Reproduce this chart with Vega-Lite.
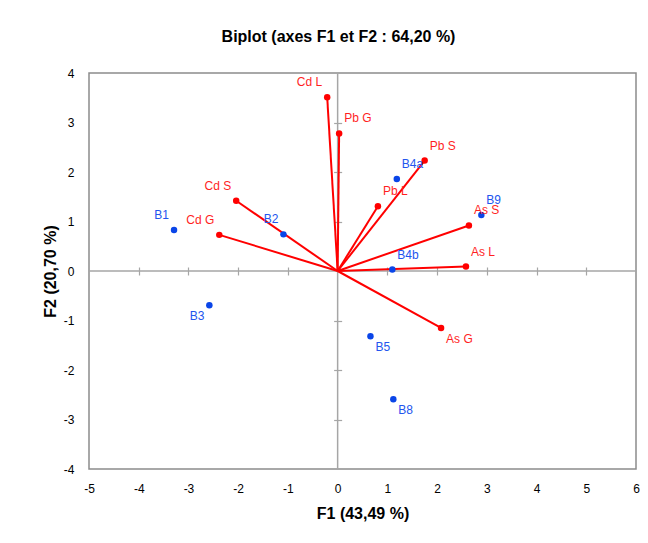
{
  "$schema": "https://vega.github.io/schema/vega-lite/v6.json",
  "width": 547,
  "height": 396,
  "autosize": "none",
  "padding": {"left": 89, "top": 73, "right": 12, "bottom": 74},
  "background": "white",
  "title": {
    "text": "Biplot (axes F1 et F2 : 64,20 %)",
    "font": "Liberation Sans",
    "fontSize": 16,
    "fontWeight": "bold",
    "color": "black",
    "anchor": "middle",
    "offset": 22,
    "dx": -24
  },
  "config": {
    "view": {"stroke": "#8c8c8c", "strokeWidth": 1.5},
    "axis": {"grid": false, "labelFont": "Liberation Sans", "titleFont": "Liberation Sans", "labelColor": "black", "titleColor": "black"}
  },
  "datasets": {
    "observations": [
      {"name": "B1", "F1": -3.29, "F2": 0.83},
      {"name": "B2", "F1": -1.09, "F2": 0.74},
      {"name": "B3", "F1": -2.58, "F2": -0.69},
      {"name": "B4a", "F1": 1.19, "F2": 1.86},
      {"name": "B4b", "F1": 1.10, "F2": 0.03},
      {"name": "B5", "F1": 0.66, "F2": -1.32},
      {"name": "B8", "F1": 1.12, "F2": -2.59},
      {"name": "B9", "F1": 2.89, "F2": 1.13}
    ],
    "variables": [
      {"name": "Cd L", "F1": -0.21, "F2": 3.51},
      {"name": "Pb G", "F1": 0.03, "F2": 2.78},
      {"name": "Pb S", "F1": 1.75, "F2": 2.23},
      {"name": "Pb L", "F1": 0.81, "F2": 1.31},
      {"name": "Cd S", "F1": -2.04, "F2": 1.42},
      {"name": "Cd G", "F1": -2.38, "F2": 0.73},
      {"name": "As S", "F1": 2.64, "F2": 0.92},
      {"name": "As L", "F1": 2.58, "F2": 0.09},
      {"name": "As G", "F1": 2.08, "F2": -1.15}
    ],
    "origin": [{"F1": 0, "F2": 0}]
  },
  "layer": [
    {
      "data": {"name": "origin"},
      "mark": {"type": "rule", "color": "#a6a6a6", "strokeWidth": 1.5},
      "encoding": {"y": {"field": "F2", "type": "quantitative", "scale": {"domain": [-4, 4]}, "axis": null}}
    },
    {
      "data": {"name": "origin"},
      "mark": {"type": "rule", "color": "#a6a6a6", "strokeWidth": 1.5},
      "encoding": {"x": {"field": "F1", "type": "quantitative", "scale": {"domain": [-5, 6]}, "axis": null}}
    },
    {
      "data": {"name": "variables"},
      "mark": {"type": "rule", "color": "#ff0000", "strokeWidth": 2},
      "encoding": {
        "x": {"field": "F1", "type": "quantitative", "scale": {"domain": [-5, 6], "nice": false, "zero": false},
          "axis": {"labels": false, "title": null, "domain": false, "ticks": true, "tickSize": 8, "tickColor": "#a6a6a6", "tickWidth": 1.2,
            "values": [-4, -3, -2, -1, 1, 2, 3, 4, 5], "orient": "bottom", "offset": {"expr": "scale('y', 0) - height - 4"}}},
        "y": {"field": "F2", "type": "quantitative", "scale": {"domain": [-4, 4], "nice": false, "zero": false},
          "axis": {"labels": false, "title": null, "domain": false, "ticks": true, "tickSize": 8, "tickColor": "#a6a6a6", "tickWidth": 1.2,
            "values": [-3, -2, -1, 1, 2, 3], "orient": "left", "offset": {"expr": "-scale('x', 0) - 4"}}},
        "x2": {"datum": 0},
        "y2": {"datum": 0}
      }
    },
    {
      "data": {"name": "variables"},
      "mark": {"type": "circle", "color": "#ff0000", "opacity": 1, "size": 42},
      "encoding": {
        "x": {"field": "F1", "type": "quantitative", "axis": null},
        "y": {"field": "F2", "type": "quantitative", "axis": null}
      }
    },
    {
      "data": {"name": "observations"},
      "mark": {"type": "circle", "color": "#0a45e8", "opacity": 1, "size": 42},
      "encoding": {
        "x": {"field": "F1", "type": "quantitative", "scale": {"domain": [-5, 6], "nice": false, "zero": false},
          "axis": {"title": "F1 (43,49 %)", "titleFontSize": 16, "titleFontWeight": "bold", "labelFontSize": 12, "ticks": false, "domain": false,
            "values": [-5, -4, -3, -2, -1, 0, 1, 2, 3, 4, 5, 6], "labelExpr": "'' + datum.value", "labelPadding": 14, "titlePadding": 11, "orient": "bottom", "labelFlush": false}},
        "y": {"field": "F2", "type": "quantitative", "scale": {"domain": [-4, 4], "nice": false, "zero": false},
          "axis": {"title": "F2 (20,70 %)", "titleFontSize": 16, "titleFontWeight": "bold", "labelFontSize": 12, "ticks": false, "domain": false,
            "values": [-4, -3, -2, -1, 0, 1, 2, 3, 4], "labelExpr": "'' + datum.value", "labelPadding": 15, "titlePadding": 5, "orient": "left", "labelFlush": false}}
      }
    },
    {
      "data": {"name": "observations"},
      "transform": [{"filter": {"field": "name", "oneOf": ["B4a", "B4b", "B9"]}}],
      "mark": {"type": "text", "color": "#2255ee", "font": "Liberation Sans", "fontSize": 12, "align": "left", "baseline": "alphabetic", "dx": 5, "dy": -11},
      "encoding": {"x": {"field": "F1", "type": "quantitative", "axis": null}, "y": {"field": "F2", "type": "quantitative", "axis": null}, "text": {"field": "name"}}
    },
    {
      "data": {"name": "observations"},
      "transform": [{"filter": {"field": "name", "oneOf": ["B1", "B2"]}}],
      "mark": {"type": "text", "color": "#2255ee", "font": "Liberation Sans", "fontSize": 12, "align": "right", "baseline": "alphabetic", "dx": -5, "dy": -11},
      "encoding": {"x": {"field": "F1", "type": "quantitative", "axis": null}, "y": {"field": "F2", "type": "quantitative", "axis": null}, "text": {"field": "name"}}
    },
    {
      "data": {"name": "observations"},
      "transform": [{"filter": {"field": "name", "oneOf": ["B5", "B8"]}}],
      "mark": {"type": "text", "color": "#2255ee", "font": "Liberation Sans", "fontSize": 12, "align": "left", "baseline": "alphabetic", "dx": 5, "dy": 15},
      "encoding": {"x": {"field": "F1", "type": "quantitative", "axis": null}, "y": {"field": "F2", "type": "quantitative", "axis": null}, "text": {"field": "name"}}
    },
    {
      "data": {"name": "observations"},
      "transform": [{"filter": {"field": "name", "oneOf": ["B3"]}}],
      "mark": {"type": "text", "color": "#2255ee", "font": "Liberation Sans", "fontSize": 12, "align": "right", "baseline": "alphabetic", "dx": -5, "dy": 15},
      "encoding": {"x": {"field": "F1", "type": "quantitative", "axis": null}, "y": {"field": "F2", "type": "quantitative", "axis": null}, "text": {"field": "name"}}
    },
    {
      "data": {"name": "variables"},
      "transform": [{"filter": {"field": "name", "oneOf": ["Pb G", "Pb S", "Pb L", "As S", "As L"]}}],
      "mark": {"type": "text", "color": "#ff1f1f", "font": "Liberation Sans", "fontSize": 12, "align": "left", "baseline": "alphabetic", "dx": 5, "dy": -11},
      "encoding": {"x": {"field": "F1", "type": "quantitative", "axis": null}, "y": {"field": "F2", "type": "quantitative", "axis": null}, "text": {"field": "name"}}
    },
    {
      "data": {"name": "variables"},
      "transform": [{"filter": {"field": "name", "oneOf": ["Cd L", "Cd S", "Cd G"]}}],
      "mark": {"type": "text", "color": "#ff1f1f", "font": "Liberation Sans", "fontSize": 12, "align": "right", "baseline": "alphabetic", "dx": -5, "dy": -11},
      "encoding": {"x": {"field": "F1", "type": "quantitative", "axis": null}, "y": {"field": "F2", "type": "quantitative", "axis": null}, "text": {"field": "name"}}
    },
    {
      "data": {"name": "variables"},
      "transform": [{"filter": {"field": "name", "oneOf": ["As G"]}}],
      "mark": {"type": "text", "color": "#ff1f1f", "font": "Liberation Sans", "fontSize": 12, "align": "left", "baseline": "alphabetic", "dx": 5, "dy": 15},
      "encoding": {"x": {"field": "F1", "type": "quantitative", "axis": null}, "y": {"field": "F2", "type": "quantitative", "axis": null}, "text": {"field": "name"}}
    }
  ],
  "resolve": {"axis": {"x": "independent", "y": "independent"}}
}
